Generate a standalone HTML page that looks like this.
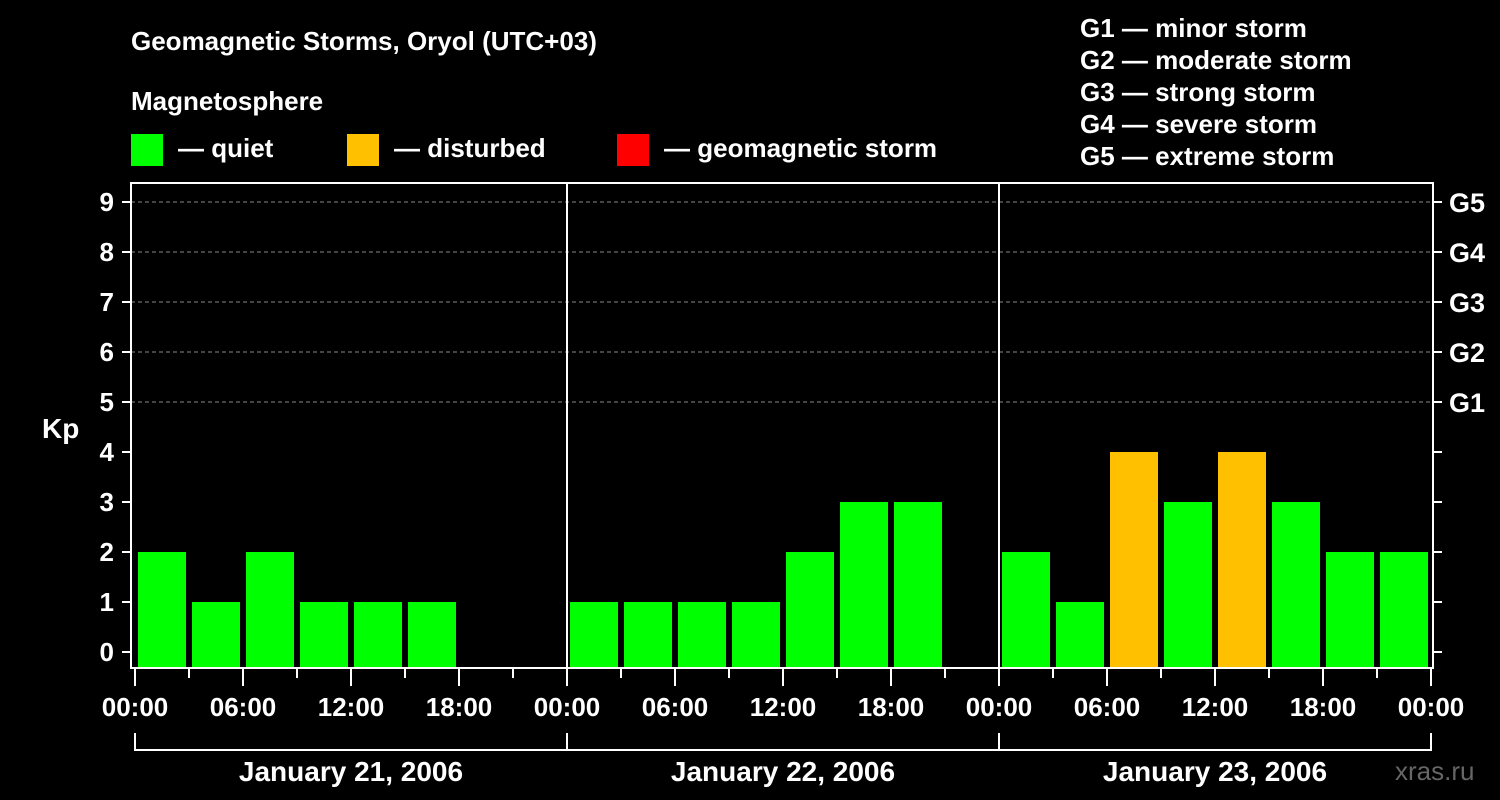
<!DOCTYPE html>
<html><head><meta charset="utf-8"><style>
html,body{margin:0;padding:0;background:#000;}
svg{display:block;font-family:"Liberation Sans",Arial,sans-serif;font-weight:bold;}
</style></head><body>
<svg id="chart" width="1500" height="800" viewBox="0 0 1500 800">
<rect width="1500" height="800" fill="#000"/>
<text x="131" y="50" fill="#fff" font-size="26">Geomagnetic Storms, Oryol (UTC+03)</text>
<text x="131" y="110" fill="#fff" font-size="26">Magnetosphere</text>
<g><rect x="131" y="134" width="32" height="32" fill="#00ff00"/><text x="178" y="157" fill="#fff" font-size="26">— quiet</text></g>
<g><rect x="347" y="134" width="32" height="32" fill="#ffc000"/><text x="394" y="157" fill="#fff" font-size="26">— disturbed</text></g>
<g><rect x="617" y="134" width="32" height="32" fill="#ff0000"/><text x="664" y="157" fill="#fff" font-size="26">— geomagnetic storm</text></g>
<g fill="#fff" font-size="26">
<text x="1080" y="37">G1 — minor storm</text>
<text x="1080" y="69">G2 — moderate storm</text>
<text x="1080" y="101">G3 — strong storm</text>
<text x="1080" y="133">G4 — severe storm</text>
<text x="1080" y="165">G5 — extreme storm</text>
</g>
<text x="42" y="438" fill="#fff" font-size="28">Kp</text>
<text x="1395" y="780" fill="#666" font-size="26" font-weight="normal">xras.ru</text>
<g id="plot"></g>
</svg>
<script>
const days = ["January 21, 2006","January 22, 2006","January 23, 2006"];
const kpDay1 = [2,1,2,1,1,1,null,null];
const kpDay2 = [1,1,1,1,2,3,3,null];
const kpDay3 = [2,1,4,3,4,3,2,2];
const yTicks = [0,1,2,3,4,5,6,7,8,9];
const gLabels = ["G1","G2","G3","G4","G5"];
const xTickLabels = ["00:00","06:00","12:00","18:00"];

const NS="http://www.w3.org/2000/svg";
const g=document.getElementById('plot');
const L=131,R=1433,T=183,B=668,X0=135,DAY=432;
const y=v=>652-v*50;
const xh=h=>X0+h*(DAY/24);
function el(t,a){const e=document.createElementNS(NS,t);for(const k in a)e.setAttribute(k,a[k]);g.appendChild(e);return e;}

for(const v of yTicks){
  if(v>=5){const ln=el('line',{x1:L,x2:R,y1:y(v),y2:y(v),stroke:'#888','stroke-dasharray':'4,3','stroke-width':1});
  
  }
  const t1=el('line',{x1:122,x2:L,y1:y(v),y2:y(v),stroke:'#fff','stroke-width':2});
  
  
  const t2=el('line',{x1:R,x2:1442,y1:y(v),y2:y(v),stroke:'#fff','stroke-width':2});
  
  
  const tx=el('text',{x:114,y:y(v)+9,fill:'#fff','font-size':26,'text-anchor':'end'});
  tx.textContent=v;
  
  
}
gLabels.forEach((s,i)=>{
  const tx=el('text',{x:1449,y:y(5+i)+10,fill:'#fff','font-size':27});
  tx.textContent=s;
  
  
});

const all=[kpDay1,kpDay2,kpDay3];
all.forEach((arr,d)=>{
  arr.forEach((v,i)=>{
    if(v===null)return;
    const h=d*24+i*3;
    const col=v>=5?'#ff0000':(v>=4?'#ffc000':'#00ff00');
    const top=y(v);
    const r=el('rect',{x:xh(h)+3,y:top,width:48,height:B-top,fill:col});
    
    
  });
});

const fr=el('rect',{x:L,y:T,width:R-L,height:B-T,fill:'none',stroke:'#fff','stroke-width':2});


for(let d=1;d<days.length;d++){
  const s=el('line',{x1:xh(d*24),x2:xh(d*24),y1:T,y2:B,stroke:'#fff','stroke-width':2});
  
  
}
for(let i=0;i<=days.length*8;i++){
  const major=i%2===0;
  const t=el('line',{x1:xh(i*3),x2:xh(i*3),y1:B,y2:major?686:678,stroke:'#fff','stroke-width':2});
  
  
  if(major){
    const tx=el('text',{x:xh(i*3),y:716,fill:'#fff','font-size':26,'text-anchor':'middle'});
    tx.textContent=xTickLabels[(i/2)%4];
    
    
  }
}
days.forEach((s,d)=>{
  const x1=xh(d*24),x2=xh(d*24+24);
  const p=el('path',{d:`M${x1} 733V750H${x2}`+(d===days.length-1?'V733':''),fill:'none',stroke:'#fff','stroke-width':2});
  
  
  const tx=el('text',{x:(x1+x2)/2,y:781,fill:'#fff','font-size':28,'text-anchor':'middle'});
  tx.textContent=s;
  
  
});
</script>
</body></html>
